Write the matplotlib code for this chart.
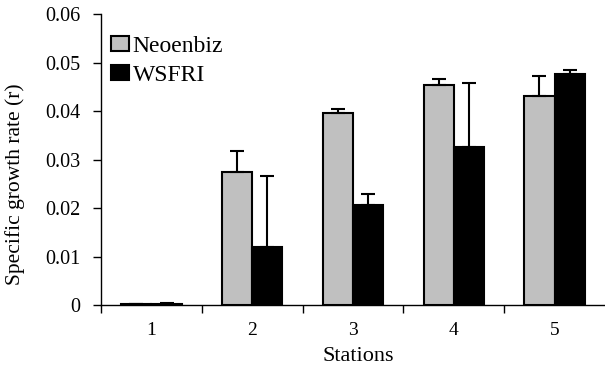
import matplotlib.pyplot as plt
import numpy as np

# dados
estacoes = ['1', '2', '3', '4', '5']
neoenbiz = [0.0002, 0.0275, 0.0397, 0.0454, 0.0432]
neoenbiz_erro = [0.0000, 0.0042, 0.0007, 0.0012, 0.0040]
wsfri = [0.0003, 0.0119, 0.0206, 0.0325, 0.0477]
wsfri_erro = [0.0002, 0.0148, 0.0023, 0.0132, 0.0008]
yticks = [0, 0.01, 0.02, 0.03, 0.04, 0.05, 0.06]
ytick_labels = ['0', '0.01', '0.02', '0.03', '0.04', '0.05', '0.06']

plt.rcParams['font.family'] = ['Liberation Serif', 'DejaVu Serif']

fig = plt.figure(figsize=(6.05, 3.74), dpi=100)
ax = fig.add_axes([0.167, 0.184, 0.833, 0.7786])

x = np.arange(len(estacoes))
largura = 0.3

ax.bar(x - largura / 2, neoenbiz, largura, color='#c0c0c0', edgecolor='black',
       linewidth=1.5, label='Neoenbiz',
       yerr=[np.zeros(len(x)), neoenbiz_erro], capsize=5,
       error_kw=dict(elinewidth=1.5, capthick=1.5, ecolor='black'))
ax.bar(x + largura / 2, wsfri, largura, color='black', edgecolor='black',
       linewidth=1.5, label='WSFRI',
       yerr=[np.zeros(len(x)), wsfri_erro], capsize=5,
       error_kw=dict(elinewidth=1.5, capthick=1.5, ecolor='black'))

ax.set_xlim(-0.5, 4.5)
ax.set_ylim(0, 0.06)

# ticks nas divisões entre estações, rótulos no centro
ax.set_xticks(np.arange(-0.5, 4.5, 1.0))
ax.set_xticklabels([])
ax.set_xticks(x, minor=True)
ax.set_xticklabels(estacoes, minor=True, fontsize=14)
ax.tick_params(axis='x', which='minor', length=0, pad=12)
ax.tick_params(axis='x', which='major', length=6, width=1, direction='out')

ax.set_yticks(yticks)
ax.set_yticklabels(ytick_labels, fontsize=14.5)
ax.tick_params(axis='y', length=6, width=1, direction='out', pad=9)

ax.spines['top'].set_visible(False)
ax.spines['right'].set_visible(False)
ax.spines['left'].set_linewidth(1)
ax.spines['bottom'].set_linewidth(1)

ax.set_xlabel('Stations', fontsize=16)
ax.xaxis.set_label_coords(0.51, -0.145)
ax.set_ylabel('Specific growth rate (r)', fontsize=15.5)
ax.yaxis.set_label_coords(-0.15, 0.416)

ax.legend(loc='upper left', bbox_to_anchor=(0.02, 0.926), frameon=False,
          fontsize=17, handlelength=0.76, handleheight=0.6, handletextpad=0.15,
          labelspacing=0.35, borderaxespad=0, borderpad=0)

plt.savefig('out.png', dpi=100)
